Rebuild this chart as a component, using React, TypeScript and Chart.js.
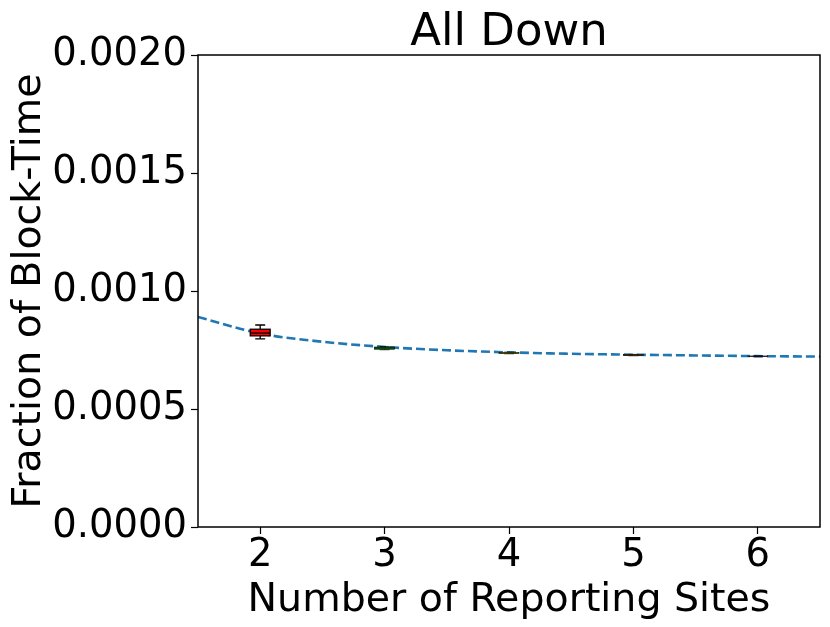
import React, { useEffect, useRef } from "react";
import { Chart, registerables } from "chart.js";

Chart.register(...registerables);

const titleText = "All Down";
const sites = [2, 3, 4, 5, 6];
const whiskerLow = [0.000797, 0.000751, 0.000734, 0.0007255, 0.0007215];
const q1 = [0.00081, 0.0007535, 0.000735, 0.0007265, 0.000722];
const median = [0.000822, 0.000758, 0.000737, 0.000728, 0.000723];
const q3 = [0.000838, 0.0007625, 0.0007395, 0.0007305, 0.0007245];
const whiskerHigh = [0.000856, 0.000765, 0.000741, 0.0007315, 0.000725];
const boxColors = ["#ff0000", "#006400", "#ffff00", "#ff8c00", "#b22222"];

const fitX = [1.5, 2, 2.5, 3, 3.5, 4, 4.5, 5, 5.5, 6, 6.5];
const fitY = [0.00089, 0.00082, 0.000785, 0.000763, 0.000749, 0.00074, 0.000734, 0.00073, 0.000727, 0.000724, 0.000722];

const yTicks = [0, 0.0005, 0.001, 0.0015, 0.002];
const FONT = "'DejaVu Sans', sans-serif";

const boxPlugin = {
  id: "boxes",
  afterDatasetsDraw(chart: any) {
    const { ctx, scales } = chart;
    const xs = scales.x;
    const ys = scales.y;
    const halfBox = xs.getPixelForValue(2.08) - xs.getPixelForValue(2);
    const halfCap = halfBox / 2;
    ctx.save();
    ctx.strokeStyle = "#000";
    sites.forEach((s, i) => {
      const cx = xs.getPixelForValue(s);
      const yl = ys.getPixelForValue(whiskerLow[i]);
      const yh = ys.getPixelForValue(whiskerHigh[i]);
      const y1 = ys.getPixelForValue(q1[i]);
      const y3 = ys.getPixelForValue(q3[i]);
      const ym = ys.getPixelForValue(median[i]);
      ctx.lineWidth = i === 0 ? 1.3 : 0.7;
      ctx.beginPath();
      ctx.moveTo(cx, yh); ctx.lineTo(cx, y3);
      ctx.moveTo(cx, yl); ctx.lineTo(cx, y1);
      ctx.moveTo(cx - halfCap, yh); ctx.lineTo(cx + halfCap, yh);
      ctx.moveTo(cx - halfCap, yl); ctx.lineTo(cx + halfCap, yl);
      ctx.stroke();
      ctx.fillStyle = boxColors[i];
      const h = y1 - y3;
      ctx.fillRect(cx - halfBox, y3, halfBox * 2, h);
      ctx.strokeRect(cx - halfBox, y3, halfBox * 2, h);
      if (i === 0) {
        ctx.beginPath();
        ctx.moveTo(cx - halfBox, ym); ctx.lineTo(cx + halfBox, ym);
        ctx.stroke();
      }
    });
    const a = chart.chartArea;
    ctx.lineWidth = 1.5;
    ctx.strokeRect(a.left, a.top, a.right - a.left, a.bottom - a.top);
    ctx.fillStyle = "#000";
    ctx.font = "45px " + FONT;
    ctx.textAlign = "center";
    ctx.textBaseline = "alphabetic";
    ctx.fillText(titleText, (a.left + a.right) / 2, 45);
    ctx.restore();
  },
};

export default function App() {
  const ref = useRef<HTMLCanvasElement | null>(null);
  useEffect(() => {
    if (!ref.current) return;
    const chart = new Chart(ref.current, {
      type: "line",
      data: {
        datasets: [
          {
            data: fitX.map((x, i) => ({ x, y: fitY[i] })),
            borderColor: "#1f77b4",
            borderWidth: 2.6,
            borderDash: [9, 4],
            pointRadius: 0,
            fill: false,
            cubicInterpolationMode: "monotone",
          },
        ],
      },
      options: {
        responsive: false,
        animation: false,
        layout: { padding: { left: 0, right: 10, top: 55, bottom: 0 } },
        plugins: {
          legend: { display: false },
          tooltip: { enabled: false },
          title: { display: false },
        },
        scales: {
          x: {
            type: "linear",
            min: 1.5,
            max: 6.5,
            afterBuildTicks: (s: any) => {
              s.ticks = sites.map((v) => ({ value: v }));
            },
            afterFit: (s: any) => {
              s.height = 100;
            },
            grid: { drawOnChartArea: false, drawTicks: true, tickLength: 7, color: "#000", tickWidth: 1.2 },
            border: { display: false },
            ticks: {
              color: "#000",
              font: { family: FONT, size: 38.5 },
              padding: -1,
              maxRotation: 0,
              callback: (v: any) => String(v),
            },
            title: {
              display: true,
              text: "Number of Reporting Sites",
              color: "#000",
              font: { family: FONT, size: 39.5 },
              padding: { top: 0, bottom: 3 },
            },
          },
          y: {
            type: "linear",
            min: 0,
            max: 0.002,
            afterBuildTicks: (s: any) => {
              s.ticks = yTicks.map((v) => ({ value: v }));
            },
            afterFit: (s: any) => {
              s.width = 198;
            },
            grid: { drawOnChartArea: false, drawTicks: true, tickLength: 7, color: "#000", tickWidth: 1.2 },
            border: { display: false },
            ticks: {
              color: "#000",
              font: { family: FONT, size: 38.5 },
              padding: 4,
              callback: (v: any) => Number(v).toFixed(4),
            },
            title: {
              display: true,
              text: "Fraction of Block-Time",
              color: "#000",
              font: { family: FONT, size: 39.5 },
              padding: { top: 6, bottom: 0 },
            },
          },
        },
      },
      plugins: [boxPlugin],
    } as any);
    return () => chart.destroy();
  }, []);
  return (
    <div style={{ position: "fixed", left: 0, top: 0, width: 830, height: 627, background: "#fff" }}>
      <canvas ref={ref} width={830} height={627} style={{ width: 830, height: 627, display: "block" }} />
    </div>
  );
}
